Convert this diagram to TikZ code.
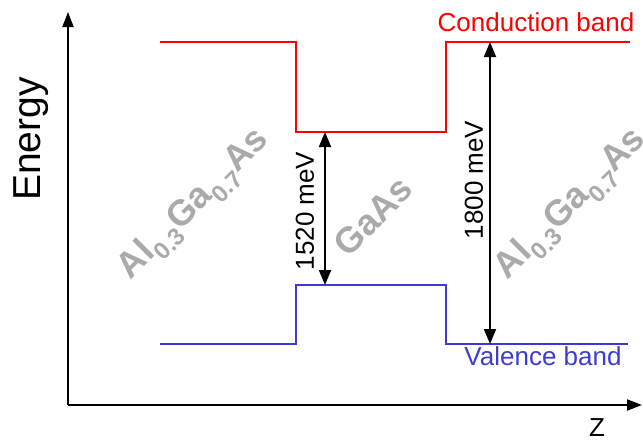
\documentclass[tikz,border=0pt]{standalone}
\usepackage{fontspec}
\setmainfont{Liberation Sans}
\usetikzlibrary{arrows.meta}
\definecolor{cband}{RGB}{255,0,0}
\definecolor{vband}{RGB}{60,60,210}
\definecolor{matgray}{RGB}{170,170,170}
\newcommand{\lowsub}[1]{\raisebox{-0.28em}{\fontsize{24}{26}\selectfont #1}}
\tikzset{
  axis/.style={line width=2pt,-{Triangle[length=15pt,width=11pt]}},
  band/.style={line width=2pt},
  gap/.style={line width=1.8pt,{Triangle[length=15pt,width=12pt]}-{Triangle[length=15pt,width=12pt]}},
  lbl/.style={inner sep=0pt,font=\fontsize{26}{30}\selectfont},
  mat/.style={inner sep=0pt,text=matgray,rotate=45,font=\fontsize{36}{40}\selectfont\bfseries}
}
\begin{document}
\begin{tikzpicture}[x=1pt,y=-1pt]
\useasboundingbox (0,0) rectangle (643,440);
% axes
\coordinate (o) at (68,405);
\coordinate (ytop) at (68,12);
\coordinate (xend) at (642,405);
\draw[axis] (o) -- (ytop);
\draw[axis] (o) -- (xend);
\node[lbl,font=\fontsize{39}{44}\selectfont,rotate=90] (energy) at (31,139) {Energy};
\node[lbl] (z) at (597,428) {Z};
% conduction band
\coordinate (c1) at (160,42);
\coordinate (c2) at (296,42);
\coordinate (c3) at (296,132);
\coordinate (c4) at (446,132);
\coordinate (c5) at (446,42);
\coordinate (c6) at (630,42);
\draw[band,cband] (c1) -- (c2) -- (c3) -- (c4) -- (c5) -- (c6);
% valence band
\coordinate (v1) at (160,344);
\coordinate (v2) at (296,344);
\coordinate (v3) at (296,285);
\coordinate (v4) at (446,285);
\coordinate (v5) at (446,344);
\coordinate (v6) at (628,344);
\draw[band,vband] (v1) -- (v2) -- (v3) -- (v4) -- (v5) -- (v6);
\node[lbl,text=cband] (cb) at (536,22) {Conduction band};
\node[lbl,text=vband] (vb) at (543,356) {Valence band};
% band gaps
\coordinate (g1t) at (325,132);
\coordinate (g1b) at (325,285);
\coordinate (g2t) at (490,42);
\coordinate (g2b) at (490,344);
\draw[gap] (g1t) -- (g1b);
\draw[gap] (g2t) -- (g2b);
\node[lbl,rotate=90] (e1) at (305,211) {1520 meV};
\node[lbl,rotate=90] (e2) at (474,180) {1800 meV};
% materials
\node[mat] (m1) at (195,205) {Al\lowsub{0.3}Ga\lowsub{0.7}As};
\node[mat] (m2) at (572,205) {Al\lowsub{0.3}Ga\lowsub{0.7}As};
\node[mat] (m3) at (373,216) {GaAs};
\end{tikzpicture}
\end{document}
